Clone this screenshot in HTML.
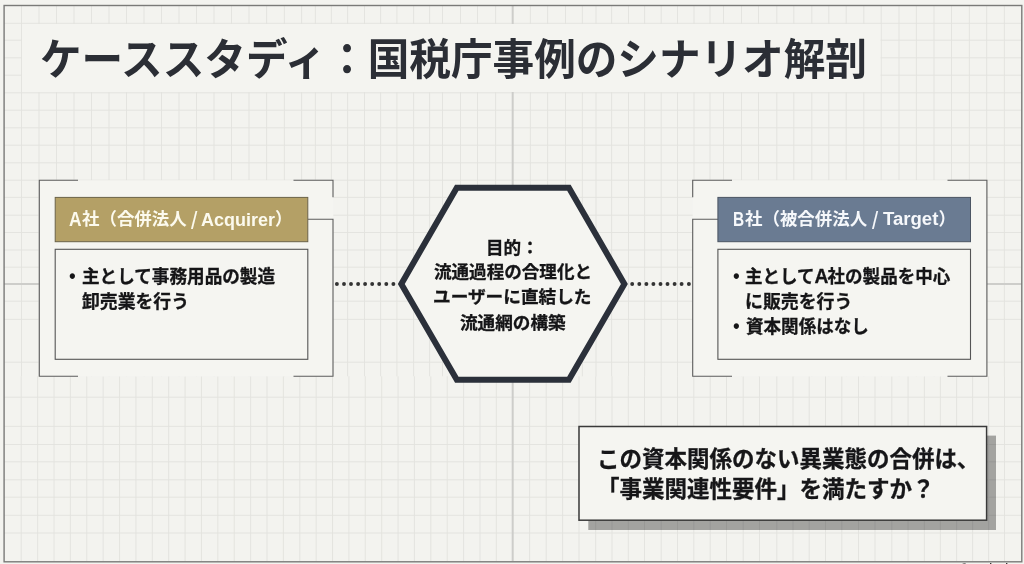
<!DOCTYPE html>
<html lang="ja">
<head>
<meta charset="utf-8">
<title>ケーススタディ：国税庁事例のシナリオ解剖</title>
<style>
  html, body { margin: 0; padding: 0; background: #f3f3ef; }
  body {
    width: 1024px; height: 564px; overflow: hidden; position: relative;
    font-family: "Liberation Sans", "Noto Sans CJK JP", sans-serif;
    color: #1c1c1e;
  }
  #page { position: absolute; left: -20px; top: -20px; width: 1064px; height: 604px; background: #f3f3ef; filter: blur(0.45px); }
  #sheet { position: absolute; left: 20px; top: 20px; width: 1024px; height: 564px; }
  svg.art { position: absolute; left: 0; top: 0; width: 1024px; height: 564px; }
  .la { font-size: 1.1em; line-height: 0; letter-spacing: -0.045em; }
  .g { position: absolute; left: 0; top: 0; margin: 0; padding: 0; font-size: inherit; font-weight: inherit; }
  .t { display: block; position: absolute; white-space: nowrap; transform-origin: 0 0; line-height: 1; font-family: "Liberation Sans", "Noto Sans CJK JP", sans-serif; }
  .title { left: 39.83px; top: 39.32px; font-size: 43.4px; font-weight: 700; color: #2b2e35; transform: scale(0.9586, 1.0000); }
  .hA1 { left: 68.84px; top: 209.50px; font-size: 18.7px; font-weight: 700; color: #fcfaee; transform: scale(0.9280, 1.0667); }
  .hA2 { left: 81.55px; top: 210.50px; font-size: 17.4px; font-weight: 700; color: #fcfaee; transform: scale(1.0034, 1.0000); }
  .hA3 { left: 190.70px; top: 208.63px; font-size: 18.7px; font-weight: 400; color: #fcfaee; transform: scale(1.2190, 1.3164); }
  .hA4 { left: 201.32px; top: 210.68px; font-size: 18.7px; font-weight: 700; color: #fcfaee; transform: scale(0.9618, 1.0000); }
  .hA5 { left: 274.90px; top: 210.50px; font-size: 17.4px; font-weight: 700; color: #fcfaee; transform: scale(1.0000, 1.0000); }
  .hB1 { left: 732.87px; top: 209.50px; font-size: 18.7px; font-weight: 700; color: #f6f8fb; transform: scale(0.8261, 1.0667); }
  .hB2 { left: 745.25px; top: 210.50px; font-size: 17.4px; font-weight: 700; color: #f6f8fb; transform: scale(1.0037, 1.0000); }
  .hB3 { left: 872.00px; top: 208.63px; font-size: 18.7px; font-weight: 400; color: #f6f8fb; transform: scale(1.1810, 1.3164); }
  .hB4 { left: 882.85px; top: 210.28px; font-size: 18.7px; font-weight: 700; color: #f6f8fb; transform: scale(0.9937, 1.0000); }
  .hB5 { left: 938.60px; top: 210.50px; font-size: 17.4px; font-weight: 700; color: #f6f8fb; transform: scale(1.0000, 1.0000); }
  .bodyA1 { left: 81.65px; top: 268.85px; font-size: 17.7px; font-weight: 700; color: #151517; transform: scale(0.9948, 1.0000); -webkit-text-stroke: 0.3px currentColor; }
  .bodyA2 { left: 82.45px; top: 294.00px; font-size: 17.7px; font-weight: 700; color: #151517; transform: scale(1.0083, 1.0000); -webkit-text-stroke: 0.3px currentColor; }
  .bodyB1 { left: 744.96px; top: 268.85px; font-size: 17.7px; font-weight: 700; color: #151517; transform: scale(0.9901, 1.0000); -webkit-text-stroke: 0.3px currentColor; }
  .bodyB2 { left: 745.13px; top: 294.15px; font-size: 17.7px; font-weight: 700; color: #151517; transform: scale(1.0113, 1.0000); -webkit-text-stroke: 0.3px currentColor; }
  .bodyB3 { left: 745.55px; top: 319.30px; font-size: 17.7px; font-weight: 700; color: #151517; transform: scale(0.9918, 1.0000); -webkit-text-stroke: 0.3px currentColor; }
  .hex1 { left: 486.24px; top: 239.50px; font-size: 17.5px; font-weight: 700; color: #151517; transform: scale(1.0050, 1.0000); -webkit-text-stroke: 0.3px currentColor; }
  .hex2 { left: 434.25px; top: 264.48px; font-size: 17.5px; font-weight: 700; color: #151517; transform: scale(1.0032, 1.0000); -webkit-text-stroke: 0.3px currentColor; }
  .hex3 { left: 433.49px; top: 289.38px; font-size: 17.5px; font-weight: 700; color: #151517; transform: scale(1.0087, 1.0000); -webkit-text-stroke: 0.3px currentColor; }
  .hex4 { left: 460.15px; top: 314.60px; font-size: 17.5px; font-weight: 700; color: #151517; transform: scale(1.0067, 1.0000); -webkit-text-stroke: 0.3px currentColor; }
  .call1 { left: 597.16px; top: 449.38px; font-size: 22.6px; font-weight: 700; color: #161618; transform: scale(0.9955, 1.0000); -webkit-text-stroke: 0.3px currentColor; }
  .call2 { left: 596.81px; top: 478.95px; font-size: 22.6px; font-weight: 700; color: #161618; transform: scale(0.9961, 1.0000); -webkit-text-stroke: 0.3px currentColor; }
  .wm { left: 960.77px; top: 561.60px; font-size: 9.5px; font-weight: 700; color: #1e1e1e; transform: scale(0.9253, 1.0000); }
  .bulA1 { left: 62.35px; top: 265.95px; font-size: 23px; font-weight: 700; color: #151517; transform: scale(0.9000, 1.0000); }
  .bulB1 { left: 725.65px; top: 266.15px; font-size: 23px; font-weight: 700; color: #151517; transform: scale(0.9000, 1.0000); }
  .bulB3 { left: 725.65px; top: 316.25px; font-size: 23px; font-weight: 700; color: #151517; transform: scale(0.9000, 1.0000); }
</style>
</head>
<body>
<div id="page"><div id="sheet">
<svg class="art" viewBox="0 0 1024 564">
  <path d="M21.50 5.5V376.3M39.00 5.5V376.3M56.50 5.5V376.3M74.00 5.5V376.3M91.50 5.5V376.3M109.00 5.5V376.3M126.50 5.5V376.3M144.00 5.5V376.3M161.50 5.5V376.3M179.00 5.5V376.3M196.50 5.5V376.3M214.00 5.5V376.3M231.50 5.5V376.3M249.00 5.5V376.3M266.60 5.5V376.3M284.40 5.5V376.3M301.60 5.5V376.3M315.40 5.5V376.3M331.40 5.5V376.3M347.60 5.5V376.3M364.50 5.5V376.3M380.60 5.5V376.3M396.90 5.5V376.3M413.60 5.5V376.3M429.60 5.5V376.3M442.50 5.5V376.3M460.50 5.5V376.3M477.50 5.5V376.3M495.60 5.5V376.3M530.40 5.5V376.3M547.60 5.5V376.3M565.50 5.5V376.3M582.40 5.5V376.3M596.00 5.5V376.3M611.60 5.5V376.3M628.50 5.5V376.3M644.60 5.5V376.3M661.25 5.5V376.3M677.50 5.5V376.3M694.00 5.5V376.3M710.00 5.5V376.3M723.50 5.5V376.3M741.50 5.5V376.3M758.50 5.5V376.3M776.75 5.5V376.3M793.75 5.5V376.3M811.75 5.5V376.3M828.75 5.5V376.3M846.25 5.5V376.3M863.75 5.5V376.3M881.25 5.5V376.3M899.00 5.5V376.3M916.40 5.5V376.3M934.00 5.5V376.3M951.50 5.5V376.3M969.40 5.5V376.3M986.70 5.5V376.3M1004.40 5.5V376.3M21.25 376.3V561M37.63 376.3V561M54.02 376.3V561M70.40 376.3V561M86.78 376.3V561M103.16 376.3V561M119.55 376.3V561M135.93 376.3V561M152.31 376.3V561M168.70 376.3V561M185.08 376.3V561M201.46 376.3V561M217.85 376.3V561M234.23 376.3V561M250.61 376.3V561M267.00 376.3V561M283.38 376.3V561M299.76 376.3V561M316.14 376.3V561M332.53 376.3V561M348.91 376.3V561M365.29 376.3V561M381.68 376.3V561M398.06 376.3V561M414.44 376.3V561M430.82 376.3V561M447.21 376.3V561M463.59 376.3V561M479.97 376.3V561M496.36 376.3V561M529.60 376.3V561M546.25 376.3V561M562.60 376.3V561M579.00 376.3V561M595.70 376.3V561M612.00 376.3V561M628.30 376.3V561M644.50 376.3V561M661.25 376.3V561M677.50 376.3V561M693.75 376.3V561M710.25 376.3V561M726.50 376.3V561M743.25 376.3V561M759.50 376.3V561M776.75 376.3V561M793.00 376.3V561M809.25 376.3V561M825.50 376.3V561M841.75 376.3V561M858.50 376.3V561M875.00 376.3V561M891.75 376.3V561M908.10 376.3V561M924.40 376.3V561M940.40 376.3V561M956.60 376.3V561M972.60 376.3V561M988.60 376.3V561M1004.50 376.3V561M4 23.30H1021.5M4 40.25H1021.5M4 57.75H1021.5M4 75.25H1021.5M4 92.75H1021.5M4 110.25H1021.5M4 127.75H1021.5M4 145.25H1021.5M4 162.75H1021.5M4 180.25H1021.5M4 197.40H1021.5M4 215.25H1021.5M4 232.50H1021.5M4 250.00H1021.5M4 267.20H1021.5M4 301.25H1021.5M4 319.40H1021.5M4 362.25H1021.5M4 397.25H1021.5M4 426.40H1021.5M4 444.50H1021.5M4 461.75H1021.5M4 479.75H1021.5M4 497.20H1021.5M4 515.30H1021.5M4 533.00H1021.5" fill="none" stroke="#e2e2de" stroke-width="0.9"/>
  <!-- major axes -->
  <path d="M512.7 5V561M4 284H39.3M986.9 284H1022" stroke="#cdcdca" stroke-width="2" fill="none"/>
  <!-- title mask -->
  <rect x="22" y="24" width="858.5" height="68" fill="#f4f4f0"/>
  <!-- outer frame -->
  <rect x="4.1" y="5.5" width="1017.7" height="556.3" fill="none" stroke="#7a7a78" stroke-width="1.4"/>

  <!-- left card -->
  <rect x="39.3" y="180.3" width="294" height="196" fill="#f5f5f1"/>
  <path d="M78 180.3H39.3V376.3H78 M293.5 180.3H333V197.3 M308 219.3H333V376.3H293.5" fill="none" stroke="#5c5c5c" stroke-width="1.1"/>
  <rect x="55.2" y="197.4" width="252.6" height="44.3" fill="#b4a066" stroke="#6b6349" stroke-width="1"/>
  <rect x="55.2" y="249.3" width="252.6" height="110" fill="#f5f5f1" stroke="#555" stroke-width="1.1"/>

  <!-- right card -->
  <rect x="692.7" y="180.3" width="294.2" height="196" fill="#f5f5f1"/>
  <path d="M732 180.3H692.7V197.3 M718 219.3H692.7V376.3H732 M947.5 180.3H986.9V376.3H947.5" fill="none" stroke="#5c5c5c" stroke-width="1.1"/>
  <rect x="717.9" y="197.4" width="252.6" height="44.3" fill="#6a7b92" stroke="#4b5563" stroke-width="1"/>
  <rect x="717.9" y="249.3" width="252.6" height="110" fill="#f5f5f1" stroke="#555" stroke-width="1.1"/>

  <!-- dotted connectors -->
  <g fill="#333">
    <circle cx="336.9" cy="284" r="1.95"/><circle cx="344" cy="284" r="1.95"/><circle cx="351" cy="284" r="1.95"/>
    <circle cx="358.1" cy="284" r="1.95"/><circle cx="365.1" cy="284" r="1.95"/><circle cx="372.2" cy="284" r="1.95"/>
    <circle cx="379.2" cy="284" r="1.95"/><circle cx="386.3" cy="284" r="1.95"/><circle cx="393.4" cy="284" r="1.95"/>
    <circle cx="632.2" cy="284" r="1.95"/><circle cx="639.3" cy="284" r="1.95"/><circle cx="646.4" cy="284" r="1.95"/>
    <circle cx="653.4" cy="284" r="1.95"/><circle cx="660.5" cy="284" r="1.95"/><circle cx="667.5" cy="284" r="1.95"/>
    <circle cx="674.6" cy="284" r="1.95"/><circle cx="681.6" cy="284" r="1.95"/><circle cx="688.9" cy="284" r="1.95"/>
  </g>

  <!-- hexagon -->
  <polygon points="401.3,283.9 456.8,187.8 568.9,187.8 624.4,283.9 568.9,379.7 456.8,379.7" fill="#f5f5f1" stroke="#2b303a" stroke-width="6" stroke-linejoin="miter"/>

  <!-- callout -->
  <rect x="588.3" y="435.6" width="407.7" height="94.4" fill="#000" fill-opacity="0.33"/>
  <rect x="579.0" y="426.5" width="407.6" height="93.7" fill="#f5f5f1" stroke="#3a3a3a" stroke-width="1.5"/>
</svg>

<h1 class="g ttl"><span class="t title">ケーススタディ：国税庁事例のシナリオ解剖</span></h1>
<div class="g card-a-head"><span class="t hA1">A</span><span class="t hA2">社（合併法人 </span><span class="t hA3">/ </span><span class="t hA4">Acquirer</span><span class="t hA5">）</span></div>
<div class="g card-a-body"><span class="t bulA1">・</span><span class="t bodyA1">主として事務用品の製造</span><span class="t bodyA2">卸売業を行う</span></div>
<div class="g purpose"><span class="t hex1">目的：</span><span class="t hex2">流通過程の合理化と</span><span class="t hex3">ユーザーに直結した</span><span class="t hex4">流通網の構築</span></div>
<div class="g card-b-head"><span class="t hB1">B</span><span class="t hB2">社（被合併法人 </span><span class="t hB3">/ </span><span class="t hB4">Target</span><span class="t hB5">）</span></div>
<div class="g card-b-body"><span class="t bulB1">・</span><span class="t bodyB1">主として<span class="la">A</span>社の製品を中心</span><span class="t bodyB2">に販売を行う</span><span class="t bulB3">・</span><span class="t bodyB3">資本関係はなし</span></div>
<div class="g question"><span class="t call1">この資本関係のない異業態の合併は、</span><span class="t call2">「事業関連性要件」を満たすか？</span></div>
<div class="g credit"><span class="t wm">© NotebookLM</span></div>

</div></div>
</body>
</html>
